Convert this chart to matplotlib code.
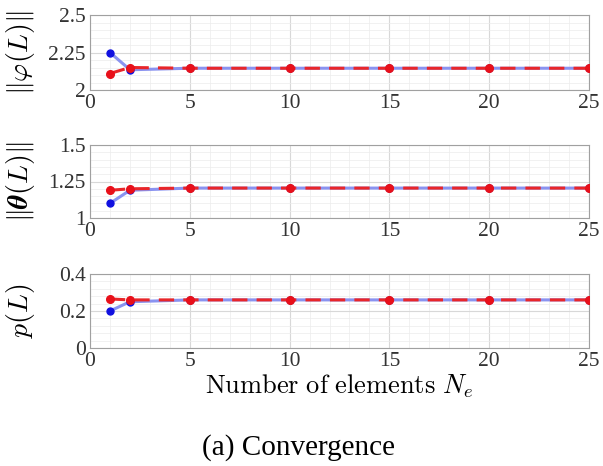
import matplotlib
matplotlib.use("Agg")
import matplotlib.pyplot as plt
from matplotlib.ticker import MultipleLocator

plt.rcParams['font.family'] = ['Liberation Serif', 'DejaVu Serif']
plt.rcParams['mathtext.fontset'] = 'cm'

x = [1, 2, 5, 10, 15, 20, 25]
phi_blue = [2.25, 2.135, 2.145, 2.145, 2.145, 2.145, 2.145]
phi_red = [2.11, 2.15, 2.145, 2.145, 2.145, 2.145, 2.145]
theta_blue = [1.10, 1.19, 1.205, 1.205, 1.205, 1.205, 1.205]
theta_red = [1.19, 1.20, 1.205, 1.205, 1.205, 1.205, 1.205]
p_blue = [0.20, 0.25, 0.26, 0.26, 0.26, 0.26, 0.26]
p_red = [0.265, 0.26, 0.26, 0.26, 0.26, 0.26, 0.26]

ylabels = [r'$\|\boldsymbol{\varphi}(L)\|$', r'$\|\boldsymbol{\theta}(L)\|$', r'$p(L)$']
yticks = [[2, 2.25, 2.5], [1, 1.25, 1.5], [0, 0.2, 0.4]]
yticklabels = [['2', '2.25', '2.5'], ['1', '1.25', '1.5'], ['0', '0.2', '0.4']]
yminor = [0.05, 0.05, 0.04]
xticks = [0, 5, 10, 15, 20, 25]

fig = plt.figure(figsize=(6.03, 4.66), dpi=100)
W, H = 603, 466
panels = [(15, 90), (145, 218), (274, 348)]
data = [(phi_blue, phi_red), (theta_blue, theta_red), (p_blue, p_red)]
for i, ((top, bot), (b, r)) in enumerate(zip(panels, data)):
    ax = fig.add_axes([90 / W, 1 - bot / H, (589 - 90) / W, (bot - top) / H])
    ax.plot(x, b, color='#8a93f0', lw=2.2, zorder=2)
    ax.plot(x, b, 'o', color='#1010e0', ms=5, zorder=3)
    ax.plot(x, r, '--', color='#e8262a', lw=2.2, dashes=(5, 3), zorder=4)
    ax.plot(x, r, 'o', color='#e8101a', ms=5.5, zorder=5)
    ax.set_xlim(0, 25)
    ax.set_ylim(yticks[i][0], yticks[i][-1])
    ax.set_xticks(xticks)
    ax.set_xticklabels([str(t) for t in xticks])
    ax.set_yticks(yticks[i])
    ax.set_yticklabels(yticklabels[i])
    ax.xaxis.set_minor_locator(MultipleLocator(1))
    ax.yaxis.set_minor_locator(MultipleLocator(yminor[i]))
    ax.grid(True, which='major', color='#d8d8d8', lw=0.8)
    ax.grid(True, which='minor', color='#ececec', lw=0.5)
    ax.tick_params(which='both', length=0, labelsize=15.5, pad=3, colors='#333333')
    for s in ax.spines.values():
        s.set_color('#a0a0a0')
        s.set_linewidth(0.8)
    ax.set_ylabel(ylabels[i], fontsize=20, labelpad=1)
    ax.yaxis.set_label_coords(-0.106, 0.5)
    ax.set_axisbelow(True)
    if i == 2:
        ax.set_xlabel(r'$\mathrm{Number\ of\ elements}\ N_e$', fontsize=19, labelpad=1)

fig.text(0.5 - 3 / W, 1 - 448 / H, '(a) Convergence', ha='center', va='center', fontsize=21)
fig.savefig('out.png', dpi=100)
